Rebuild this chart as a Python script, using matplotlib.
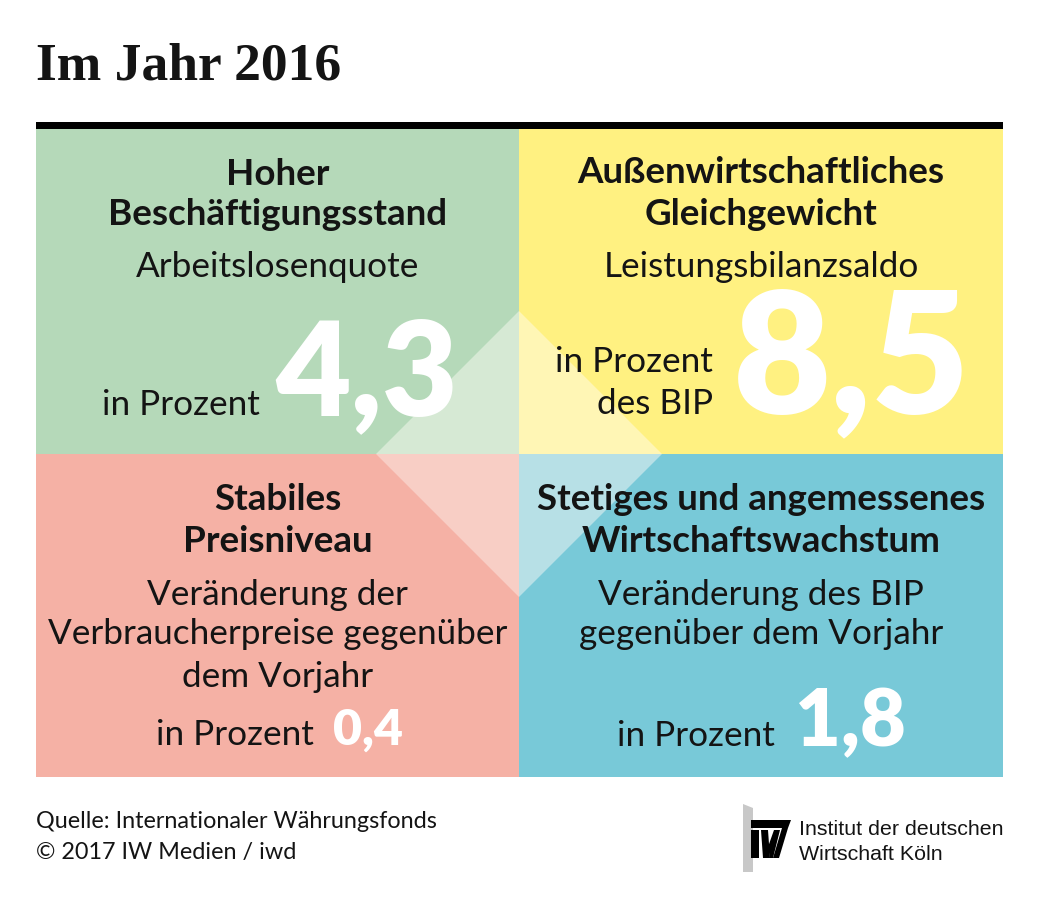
import matplotlib
matplotlib.use("Agg")
import matplotlib.pyplot as plt
from matplotlib.patches import Polygon, Rectangle

# chart content
title = "Im Jahr 2016"
headings = [
    ["Hoher", "Beschäftigungsstand"],
    ["Außenwirtschaftliches", "Gleichgewicht"],
    ["Stabiles", "Preisniveau"],
    ["Stetiges und angemessenes", "Wirtschaftswachstum"],
]
indicators = [
    ["Arbeitslosenquote"],
    ["Leistungsbilanzsaldo"],
    ["Veränderung der", "Verbraucherpreise gegenüber", "dem Vorjahr"],
    ["Veränderung des BIP", "gegenüber dem Vorjahr"],
]
units = [
    ["in Prozent"],
    ["in Prozent", "des BIP"],
    ["in Prozent"],
    ["in Prozent"],
]
values = [4.3, 8.5, 0.4, 1.8]
source = "Quelle: Internationaler Währungsfonds"
copyright_line = "© 2017 IW Medien / iwd"
logo_lines = ["Institut der deutschen", "Wirtschaft Köln"]

colors = ["#b5d9b9", "#fff181", "#f5b1a5", "#78c9d8"]
light_colors = ["#d6e9d4", "#fff6b5", "#f8cec5", "#b7e0e6"]

# layout (pixels)
W, H = 1039, 904
left, right, top, mid_y, bottom = 36, 1003, 130, 455, 778
mid_x = 519
diamond_r = 143

head_y = [[185, 225], [183, 225], [510, 552], [510, 552]]
ind_y = [[277], [277], [605, 644, 687], [605, 644]]
unit_pos = [(260, [415]), (713, [372, 414]), (314, [745]), (775, [746])]
# x, baseline, font size (pt)
value_pos = [(275, 415, 94), (733, 413, 122), (333, 745, 36), (795, 746, 57)]

SANS = "Lato"
TXT = "#141414"

fig = plt.figure(figsize=(W / 100, H / 100), dpi=100)
ax = fig.add_axes([0, 0, 1, 1])
ax.set_xlim(0, W)
ax.set_ylim(H, 0)
ax.axis("off")

ax.text(left, 80, title, family="Liberation Serif", weight="bold",
        fontsize=38.5, color=TXT, va="baseline", ha="left")
ax.add_patch(Rectangle((left, 123), right - left, 7, color="black", lw=0))

boxes = [
    (left, top, mid_x, mid_y),
    (mid_x, top, right, mid_y),
    (left, mid_y, mid_x, bottom),
    (mid_x, mid_y, right, bottom),
]
for (x0, y0, x1, y1), c in zip(boxes, colors):
    ax.add_patch(Rectangle((x0, y0), x1 - x0, y1 - y0, color=c, lw=0))

# central diamond, one light triangle per quadrant
cx, cy, r = mid_x, mid_y, diamond_r
tris = [
    [(cx, cy - r), (cx - r, cy), (cx, cy)],
    [(cx, cy - r), (cx + r, cy), (cx, cy)],
    [(cx - r, cy), (cx, cy + r), (cx, cy)],
    [(cx + r, cy), (cx, cy + r), (cx, cy)],
]
for tri, c in zip(tris, light_colors):
    ax.add_patch(Polygon(tri, closed=True, color=c, lw=0))

for i, (x0, y0, x1, y1) in enumerate(boxes):
    xc = (x0 + x1) / 2
    for line, y in zip(headings[i], head_y[i]):
        ax.text(xc, y, line, family=SANS, weight="bold", fontsize=26.5,
                color=TXT, ha="center", va="baseline")
    for line, y in zip(indicators[i], ind_y[i]):
        ax.text(xc, y, line, family=SANS, fontsize=25.3,
                color=TXT, ha="center", va="baseline")
    ux, uys = unit_pos[i]
    for line, y in zip(units[i], uys):
        ax.text(ux, y, line, family=SANS, fontsize=25.3,
                color=TXT, ha="right", va="baseline")
    vx, vy, vs = value_pos[i]
    label = f"{values[i]:.1f}".replace(".", ",")
    ax.text(vx, vy, label, family=SANS, weight="heavy", fontsize=vs,
            color="white", ha="left", va="baseline")

# footer
ax.text(left, 828, source, family=SANS, fontsize=16.8, color=TXT, va="baseline")
ax.text(left, 859, copyright_line, family=SANS, fontsize=16.8, color=TXT, va="baseline")

# logo
ax.add_patch(Polygon([(743, 805), (753, 809), (753, 873), (743, 873)], closed=True,
                     color="#c8c8c8", lw=0))
logo_shapes = [
    [(751, 821), (791, 821), (788, 829), (751, 829)],
    [(751, 831), (759, 831), (759, 859), (751, 859)],
    [(761, 831), (768, 831), (770, 859), (763, 859)],
    [(768, 848), (774, 831), (780, 831), (773, 859), (770, 859)],
    [(782, 829), (788, 829), (779, 859), (773, 859)],
]
for shp in logo_shapes:
    ax.add_patch(Polygon(shp, closed=True, color="black", lw=0))
ax.text(799, 835, logo_lines[0], family="Liberation Sans", fontsize=15.4, color=TXT, va="baseline")
ax.text(799, 860, logo_lines[1], family="Liberation Sans", fontsize=15.4, color=TXT, va="baseline")

fig.savefig("out.png", dpi=100)
